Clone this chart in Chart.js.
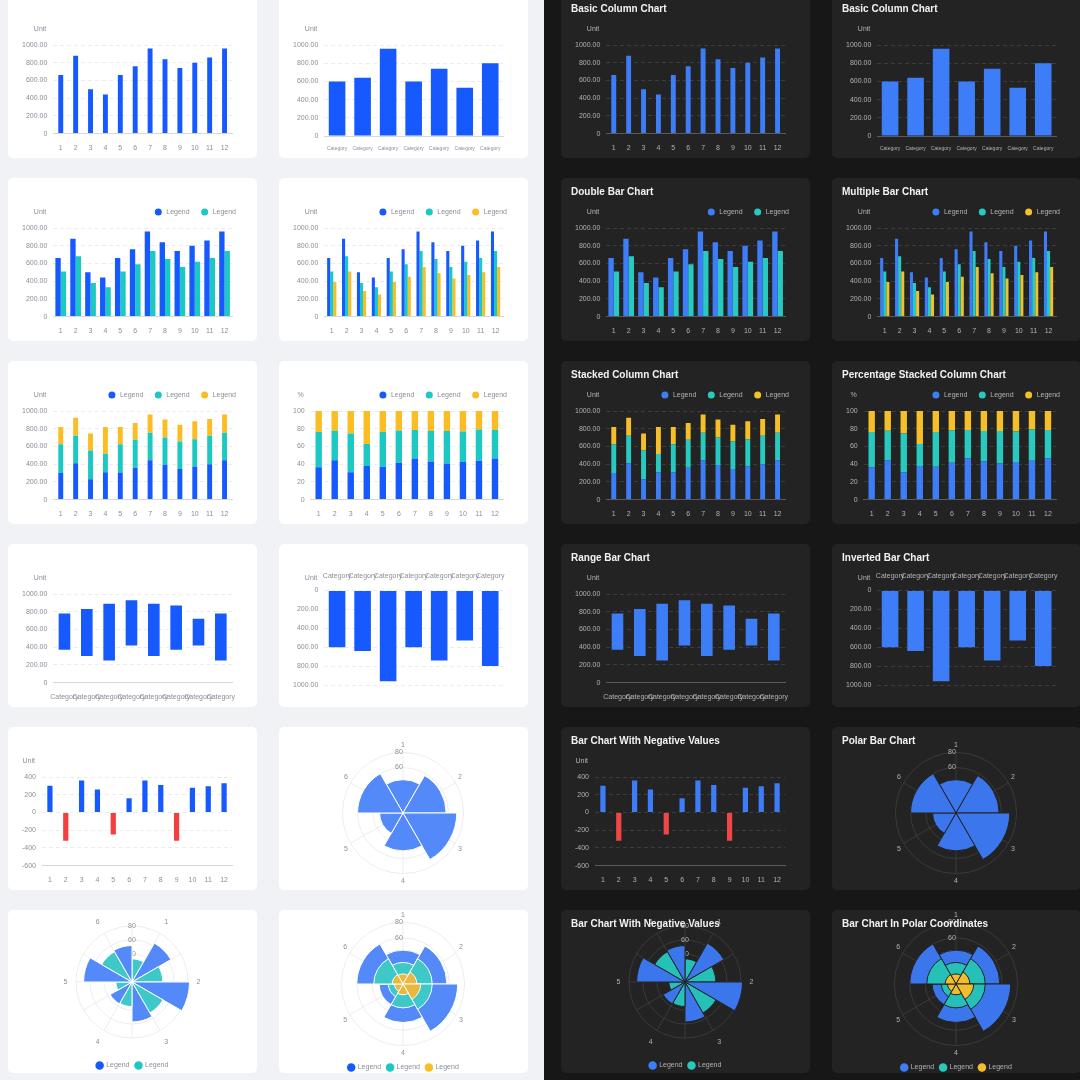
<!DOCTYPE html>
<html><head><meta charset="utf-8">
<script src="https://cdn.jsdelivr.net/npm/chart.js@4.4.1/dist/chart.umd.min.js"></script>
<style>
  html,body{margin:0;padding:0;width:1080px;height:1080px;overflow:hidden;background:#f0f2f5;font-family:"Liberation Sans",Arial,sans-serif}
  #dark{position:absolute;left:544px;top:0;width:536px;height:1080px;background:#171717}
  .card{position:absolute;width:249px;height:163px;border-radius:5px;background:#fff;overflow:hidden}
  .card.dark{background:#232323}
  .card canvas{position:absolute;left:0;top:0}
  .title{position:absolute;left:10px;top:8px;font-size:10px;font-weight:bold;color:#f2f2f2;white-space:nowrap}
</style></head>
<body>
<div id="dark"></div>
<script>
// ---- data ----
const months = ['1','2','3','4','5','6','7','8','9','10','11','12'];
const cats7 = ['Category','Category','Category','Category','Category','Category','Category'];
const cats8 = ['Category','Category','Category','Category','Category','Category','Category','Category'];
const seriesA = [660,880,500,440,660,760,960,840,740,800,860,960];
const seriesB = [510,680,380,330,510,590,740,650,560,620,660,740];
const seriesC = [390,510,290,250,390,450,560,490,430,470,500,560];
const stackBlue   = [300,410,230,310,305,360,445,390,345,375,400,445];
const stackTeal   = [325,310,325,205,320,315,310,310,310,305,320,310];
const stackYellow = [195,205,190,305,195,190,205,205,190,205,190,205];
const catValues = [600,640,960,600,740,530,800];
const rangeLow  = [370,300,250,420,300,370,420,250];
const rangeHigh = [780,830,890,930,890,870,720,780];
const negValues = [300,-320,360,260,-250,160,360,310,-320,280,295,330];
const polarLabels = ['1','2','3','4','5','6'];
const polarValues = [44,57,71,50,31,60];
const polarTicks = [0,20,40,60,80];
const polarGroupLabels = ['','1','','2','','3','','4','','5','','6'];
const polarGroupValues = [33,64,44,82,51,57,35,36,23,69,50,52];
const polarStackYellow = [13,18,23,14,11,14];
const polarStackTeal   = [15,20,15,17,8,24];
const polarStackBlue   = [16,19,33,19,12,22];

const themes = {
  light:{card:'#ffffff',blue:'#1559ff',teal:'#1cc8c2',yellow:'#fbbd23',red:'#f53f3f',tick:'#8a8f99',grid:'#ececec',axis:'#d5d8de',
         pBlue:'#5389f8',pTeal:'#3ec8c8',pYellow:'#ebb73c',pGrid:'#ededed'},
  dark:{card:'#232323',blue:'#3d7ef8',teal:'#28c9be',yellow:'#f5bf2a',red:'#f04646',tick:'#b3b3b3',grid:'#3c3c3c',axis:'#5a5a5a',
         pBlue:'#3c76ec',pTeal:'#25c0b8',pYellow:'#f0bd2e',pGrid:'#3a3a3a'}
};

Chart.defaults.font.family = '"Liberation Sans", Arial, sans-serif';
Chart.defaults.font.size = 7;
Chart.defaults.animation = false;

// "Unit" label + top-right legend for the bar cards
const header = {
  id:'header',
  afterDraw(chart, args, o){
    if (!o.show) return;
    const {ctx, chartArea} = chart;
    ctx.save();
    ctx.font = '7px "Liberation Sans", Arial';
    ctx.fillStyle = o.color;
    ctx.textBaseline = 'middle';
    ctx.textAlign = 'right';
    ctx.fillText(o.unit, chartArea.left - 7, o.y);
    if (o.legend) {
      const ds = chart.data.datasets;
      let x = chartArea.right + 4;
      for (let i = ds.length - 1; i >= 0; i--) {
        const w = ctx.measureText(ds[i].label).width;
        ctx.fillStyle = o.color;
        ctx.fillText(ds[i].label, x, o.y);
        const cx = x - w - 8;
        ctx.fillStyle = Array.isArray(ds[i].backgroundColor) ? ds[i].backgroundColor[0] : ds[i].backgroundColor;
        ctx.beginPath(); ctx.arc(cx, o.y, 3.5, 0, Math.PI*2); ctx.fill();
        x = cx - 15;
      }
    }
    ctx.restore();
  }
};
// spokes through label centres + upright tick labels for the 6-sector polar charts
const spokes = {
  id:'spokes',
  beforeDatasetsDraw(chart, args, o){
    if (!o.show) return;
    const r = chart.scales.r, ctx = chart.ctx, n = chart.data.labels.length;
    ctx.save(); ctx.strokeStyle = o.color; ctx.lineWidth = 1;
    for (let i = 0; i < n; i++) {
      const a = i * 2*Math.PI/n - Math.PI/2;
      ctx.beginPath(); ctx.moveTo(r.xCenter, r.yCenter);
      ctx.lineTo(r.xCenter + Math.cos(a)*r.drawingArea, r.yCenter + Math.sin(a)*r.drawingArea); ctx.stroke();
    }
    ctx.font = '7px "Liberation Sans", Arial';
    ctx.fillStyle = o.tick; ctx.textAlign = 'center'; ctx.textBaseline = 'middle';
    polarTicks.forEach(v => ctx.fillText(String(v), r.xCenter - 4, r.yCenter - r.getDistanceFromCenterForValue(v)));
    ctx.restore();
  }
};
Chart.register(header, spokes);

const fmt2 = v => v === 0 ? '0' : v.toFixed(2);

function barOptions(t, o){
  return {
    responsive:false,
    layout:{padding:{top:o.padTop ?? 50, left:8, right:25, bottom:o.padBottom ?? 4}},
    plugins:{legend:{display:false}, tooltip:{enabled:false},
      header:{show:true, unit:o.unit || 'Unit', color:t.tick, y:34, legend:!!o.legend}},
    scales:{
      x:{stacked:!!o.stacked, position:o.xTop ? 'top' : 'bottom',
         grid:{display:false}, border:{display:!o.xTop, color:t.axis},
         ticks:{color:t.tick, font:{size:o.catFont || 7}, padding:2, maxRotation:0, autoSkip:false}},
      y:{stacked:!!o.stacked, min:o.min ?? 0, max:o.max ?? 1000, reverse:!!o.reverse,
         ticks:{stepSize:o.step || 200, color:t.tick, padding:6, callback:o.fmt || fmt2},
         grid:{color:t.grid, drawTicks:false}, border:{display:false, dash:[4,3]}}
    }
  };
}

function bars(data, color, bp, cp){ return {label:'Legend', data, backgroundColor:color, barPercentage:bp, categoryPercentage:cp ?? 1}; }

function polarOptions(t, o){
  return {
    responsive:false,
    layout:{padding:o.pad},
    plugins:{tooltip:{enabled:false}, spokes:{show:!!o.spokes, color:t.pGrid, tick:t.tick},
      legend:{display:!!o.legendColors, position:'bottom',
        labels:{usePointStyle:true, boxWidth:6, boxHeight:6, padding:6, color:t.tick, font:{size:7},
          generateLabels:() => (o.legendColors || []).map(c => ({text:'Legend', fillStyle:c, strokeStyle:c, lineWidth:0, pointStyle:'circle', fontColor:t.tick}))}}},
    scales:{r:{min:0, max:80, startAngle:o.start,
      ticks:{display:!o.spokes, stepSize:20, color:t.tick, showLabelBackdrop:false, font:{size:7}},
      grid:{color:t.pGrid}, angleLines:{display:!o.spokes, color:t.pGrid},
      pointLabels:{display:true, centerPointLabels:!!o.spokes, color:t.tick, font:{size:7}, padding:3}}}
  };
}

function build(kind, t){
  switch(kind){
    case 'basic': return {type:'bar', data:{labels:months, datasets:[bars(seriesA, t.blue, 0.33)]}, options:barOptions(t, {})};
    case 'cat': return {type:'bar', data:{labels:cats7, datasets:[bars(catValues, t.blue, 0.65)]}, options:barOptions(t, {catFont:5})};
    case 'double': return {type:'bar', data:{labels:months, datasets:[bars(seriesA, t.blue, 1, 0.72), bars(seriesB, t.teal, 1, 0.72)]}, options:barOptions(t, {legend:true})};
    case 'multi': return {type:'bar', data:{labels:months, datasets:[bars(seriesA, t.blue, 1, 0.62), bars(seriesB, t.teal, 1, 0.62), bars(seriesC, t.yellow, 1, 0.62)]}, options:barOptions(t, {legend:true})};
    case 'stack': return {type:'bar', data:{labels:months, datasets:[bars(stackBlue, t.blue, 0.33), bars(stackTeal, t.teal, 0.33), bars(stackYellow, t.yellow, 0.33)]}, options:barOptions(t, {legend:true, stacked:true})};
    case 'pct': {
      const tot = stackBlue.map((v,i) => v + stackTeal[i] + stackYellow[i]);
      const p = a => a.map((v,i) => v / tot[i] * 100);
      return {type:'bar', data:{labels:months, datasets:[bars(p(stackBlue), t.blue, 0.4), bars(p(stackTeal), t.teal, 0.4), bars(p(stackYellow), t.yellow, 0.4)]},
        options:barOptions(t, {legend:true, stacked:true, unit:'%', max:100, step:20, fmt:v => String(v)})};
    }
    case 'range': return {type:'bar', data:{labels:cats8, datasets:[bars(rangeLow.map((v,i) => [v, rangeHigh[i]]), t.blue, 0.52)]}, options:barOptions(t, {})};
    case 'inv': return {type:'bar', data:{labels:cats7, datasets:[bars(catValues, t.blue, 0.65)]}, options:barOptions(t, {reverse:true, xTop:true, padTop:26, padBottom:22})};
    case 'neg': return {type:'bar', data:{labels:months, datasets:[bars(negValues, negValues.map(v => v < 0 ? t.red : t.blue), 0.33)]},
        options:barOptions(t, {min:-600, max:400, fmt:v => String(v)})};
    case 'polar': return {type:'polarArea', data:{labels:polarLabels, datasets:[{data:polarValues, backgroundColor:t.pBlue, borderColor:t.card, borderWidth:1}]},
        options:polarOptions(t, {start:-30, spokes:true, pad:{top:14, bottom:4, left:0, right:0}})};
    case 'pgroup': return {type:'polarArea', data:{labels:polarGroupLabels, datasets:[{data:polarGroupValues, backgroundColor:polarGroupValues.map((v,i) => i % 2 ? t.pBlue : t.pTeal), borderColor:t.card, borderWidth:1}]},
        options:polarOptions(t, {start:0, pad:{top:0, bottom:-6, left:0, right:0}, legendColors:[t.blue, t.teal]})};
    case 'pstack': {
      const c1 = polarStackYellow.map((v,i) => v + polarStackTeal[i]);
      const c2 = c1.map((v,i) => v + polarStackBlue[i]);
      const ds = (d, c) => ({data:d, backgroundColor:c, borderColor:t.card, borderWidth:1});
      return {type:'polarArea', data:{labels:polarLabels, datasets:[ds(polarStackYellow, t.pYellow), ds(c1, t.pTeal), ds(c2, t.pBlue)]},
        options:polarOptions(t, {start:-30, spokes:true, pad:{top:2, bottom:-8, left:0, right:0}, legendColors:[t.blue, t.teal, t.yellow]})};
    }
  }
}

const rows = [['basic','cat'],['double','multi'],['stack','pct'],['range','inv'],['neg','polar'],['pgroup','pstack']];
const titles = [['Basic Column Chart','Basic Column Chart'],['Double Bar Chart','Multiple Bar Chart'],
  ['Stacked Column Chart','Percentage Stacked Column Chart'],['Range Bar Chart','Inverted Bar Chart'],
  ['Bar Chart With Negative Values','Polar Bar Chart'],['Bar Chart With Negative Values','Bar Chart In Polar Coordinates']];
const colX = [8, 279, 561, 832];

rows.forEach((row, r) => {
  const top = -5 + r * 183;
  [0,1,2,3].forEach(c => {
    const dark = c >= 2, kind = row[c % 2];
    const card = document.createElement('div');
    card.className = 'card' + (dark ? ' dark' : '');
    card.style.left = colX[c] + 'px'; card.style.top = top + 'px';
    const cv = document.createElement('canvas');
    cv.width = 249; cv.height = 163;
    card.appendChild(cv);
    if (dark) {
      const h = document.createElement('div');
      h.className = 'title'; h.textContent = titles[r][c % 2];
      card.appendChild(h);
    }
    document.body.appendChild(card);
    new Chart(cv, build(kind, themes[dark ? 'dark' : 'light']));
  });
});
</script>
</body></html>
